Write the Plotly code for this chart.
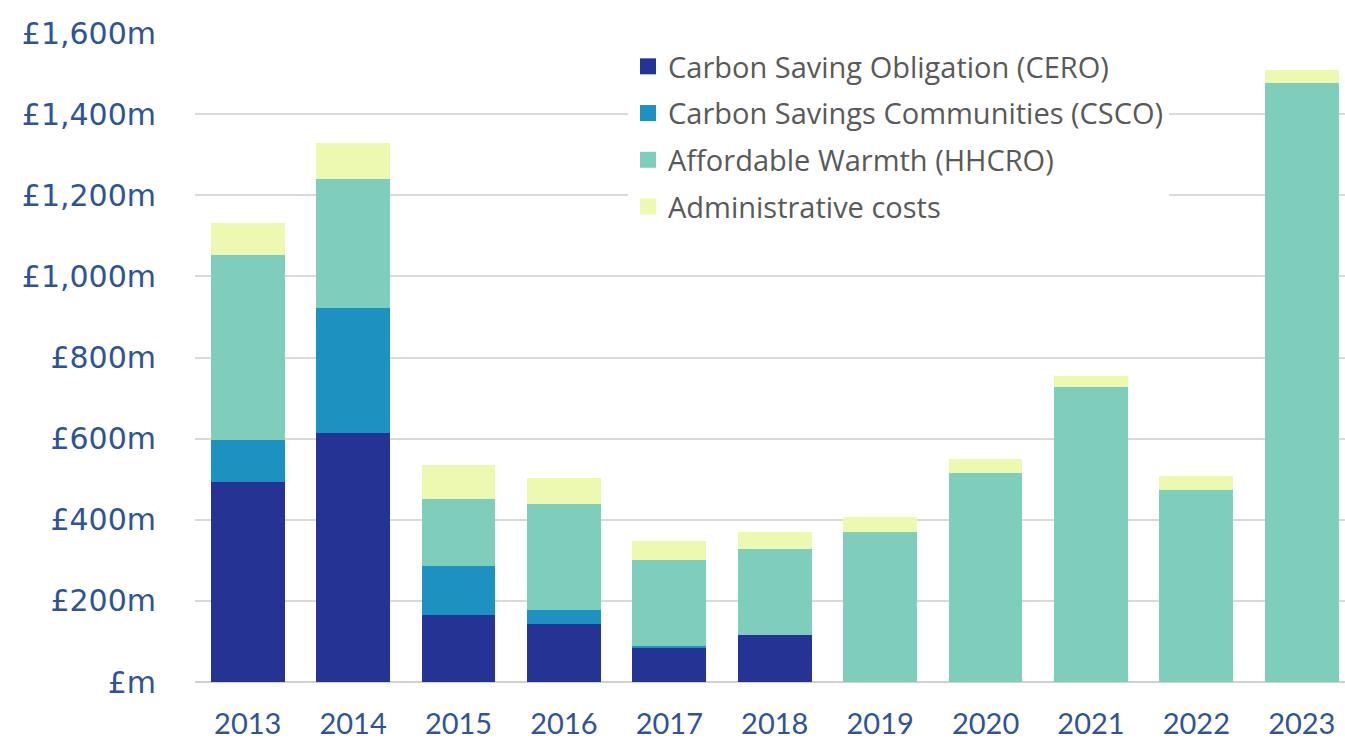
import plotly.graph_objects as go

# ECO spend by obligation, £m per year
years = ["2013", "2014", "2015", "2016", "2017", "2018", "2019", "2020", "2021", "2022", "2023"]
cero = [493, 615, 165, 142, 84, 117, 0, 0, 0, 0, 0]
csco = [104, 306, 122, 36, 5, 0, 0, 0, 0, 0, 0]
hhcro = [455, 319, 164, 260, 212, 211, 370, 516, 727, 473, 1477]
admin = [79, 89, 84, 66, 46, 42, 38, 33, 28, 34, 32]

series_names = [
    "Carbon Saving Obligation (CERO)",
    "Carbon Savings Communities (CSCO)",
    "Affordable Warmth (HHCRO)",
    "Administrative costs",
]
series_values = [cero, csco, hhcro, admin]
series_colors = ["#253494", "#1d91c0", "#7fcdbb", "#edf8b1"]

y_ticks = [0, 200, 400, 600, 800, 1000, 1200, 1400, 1600]
y_ticktext = ["£m", "£200m", "£400m", "£600m", "£800m", "£1,000m", "£1,200m", "£1,400m", "£1,600m"]

axis_blue = "#2f5496"
grid_grey = "#d9d9d9"

fig = go.Figure()

for name, vals, col in zip(series_names, series_values, series_colors):
    fig.add_trace(go.Bar(
        x=years, y=vals, name=name,
        marker=dict(color=col, line=dict(width=0)),
        showlegend=False, legendgroup=name,
    ))

# legend keys drawn as larger squares
for name, col in zip(series_names, series_colors):
    fig.add_trace(go.Scatter(
        x=[None], y=[None], mode="markers", name=name,
        marker=dict(symbol="square", size=20, color=col),
        legendgroup=name, showlegend=True,
    ))

fig.update_layout(
    width=1345, height=740,
    margin=dict(l=195, r=0, t=33, b=58, autoexpand=False),
    paper_bgcolor="white", plot_bgcolor="white",
    barmode="stack", bargap=0.3,
    legend=dict(
        x=(628 - 195) / 1150, xanchor="left",
        y=1 - (41 - 33) / 649, yanchor="top",
        bgcolor="white", borderwidth=0,
        font=dict(family="Open Sans", size=29, color="#595959"),
        tracegroupgap=6,
        itemsizing="trace",
    ),
    xaxis=dict(
        type="category", range=[-0.5, 10.41], automargin=False,
        tickfont=dict(family="Lato", size=29, color=axis_blue),
        showgrid=False, showline=False, zeroline=False,
        ticks="", ticklabelstandoff=22,
    ),
    yaxis=dict(
        range=[0, 1600], tickvals=y_ticks, ticktext=y_ticktext, automargin=False,
        tickfont=dict(family="DejaVu Sans", size=30, color=axis_blue),
        showgrid=True, gridcolor=grid_grey, gridwidth=1.5,
        zeroline=True, zerolinecolor="#d0d0d0", zerolinewidth=1.5,
        showline=False, ticks="", ticklabelstandoff=38,
    ),
)

fig.write_html("out.html")
